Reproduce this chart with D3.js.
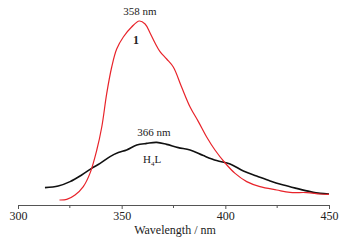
<!DOCTYPE html>
<html>
<head>
<meta charset="utf-8">
<script src="https://cdn.jsdelivr.net/npm/d3@7"></script>
<style>
  html, body { margin: 0; padding: 0; background: #fff; }
  svg { display: block; font-family: "Liberation Serif", "DejaVu Serif", serif; }
</style>
</head>
<body>
<svg id="chart" width="346" height="242"></svg>
<script>
// emission spectra, intensity in arbitrary units
const complexWl = [320, 323.5, 327.5, 331.5, 334.7, 338, 340.4, 342.8, 345.2, 347.6, 350.8, 354.8, 358.5, 361.3, 363.7, 366.1, 368.5, 371.7, 374.9, 378.9, 383, 387, 391, 395, 399.9, 404.7, 410.3, 416.7, 424.8, 431.2, 439.3, 445.7, 450];
const complexI = [2.5, 2.8, 5, 9.2, 15.8, 27.5, 39, 55.8, 69, 78, 84, 89, 92, 90.5, 86, 81, 76.7, 73, 69, 59, 49, 41.7, 34, 27.5, 21, 15.8, 11.7, 9.2, 7.5, 6.3, 6.2, 5.5, 5.3];

const ligandWl = [313, 319.4, 325.1, 330.7, 335.5, 339.6, 344.4, 348.4, 352.4, 357.3, 362.1, 366.9, 371.7, 377.3, 383, 389.4, 395.8, 402.3, 408.7, 415.1, 421.6, 428, 434.4, 440.9, 445.7, 450];
const ligandI = [8.7, 9.5, 11.7, 15, 18.3, 20.8, 24.2, 26.2, 27.5, 30, 30.8, 31.3, 30.3, 28.7, 27.5, 24.7, 22.2, 20.5, 17, 14.5, 12, 10, 8.3, 6.7, 5.8, 5.5];

const majorTicks = [300, 350, 400, 450];
const minorTicks = [325, 375, 425];

const svg = d3.select('#chart');
const x = d3.scaleLinear().domain([300, 450]).range([18, 329]);
const y = d3.scaleLinear().domain([0, 100]).range([205, 5]);

const line = d3.line()
  .x(d => x(d[0]))
  .y(d => y(d[1]))
  .curve(d3.curveCatmullRom.alpha(0.5));

// axis
const axis = svg.append('g').attr('transform', 'translate(0,205)');
axis.call(d3.axisBottom(x).tickValues(majorTicks).tickSize(4).tickSizeOuter(0).tickPadding(2))
  .call(a => a.selectAll('path,line').attr('stroke', '#555'))
  .call(a => a.selectAll('text')
    .attr('fill', '#222')
    .attr('font-size', 12)
    .attr('font-family', '"Liberation Serif", "DejaVu Serif", serif'));
axis.selectAll('line.minor').data(minorTicks).join('line')
  .attr('class', 'minor')
  .attr('x1', d => x(d)).attr('x2', d => x(d))
  .attr('y1', 0).attr('y2', 3)
  .attr('stroke', '#555');

svg.append('text')
  .attr('x', 175).attr('y', 234)
  .attr('text-anchor', 'middle')
  .attr('font-size', 12)
  .attr('fill', '#222')
  .text('Wavelength / nm');

svg.append('path')
  .datum(d3.zip(ligandWl, ligandI))
  .attr('d', line)
  .attr('fill', 'none')
  .attr('stroke', '#111')
  .attr('stroke-width', 1.6);

svg.append('path')
  .datum(d3.zip(complexWl, complexI))
  .attr('d', line)
  .attr('fill', 'none')
  .attr('stroke', '#e8232a')
  .attr('stroke-width', 1.2);

// annotations
svg.append('text')
  .attr('x', 140).attr('y', 15)
  .attr('text-anchor', 'middle')
  .attr('font-size', 11)
  .attr('fill', '#222')
  .text('358 nm');

svg.append('text')
  .attr('x', 136).attr('y', 44)
  .attr('text-anchor', 'middle')
  .attr('font-size', 12)
  .attr('font-weight', 'bold')
  .attr('fill', '#222')
  .text('1');

svg.append('text')
  .attr('x', 154).attr('y', 136)
  .attr('text-anchor', 'middle')
  .attr('font-size', 11)
  .attr('fill', '#222')
  .text('366 nm');

const h4l = svg.append('text')
  .attr('x', 143).attr('y', 163)
  .attr('font-size', 11)
  .attr('fill', '#222');
h4l.append('tspan').text('H');
h4l.append('tspan').attr('font-size', 7).attr('dy', 3).text('4');
h4l.append('tspan').attr('dy', -3).text('L');
</script>
</body>
</html>
